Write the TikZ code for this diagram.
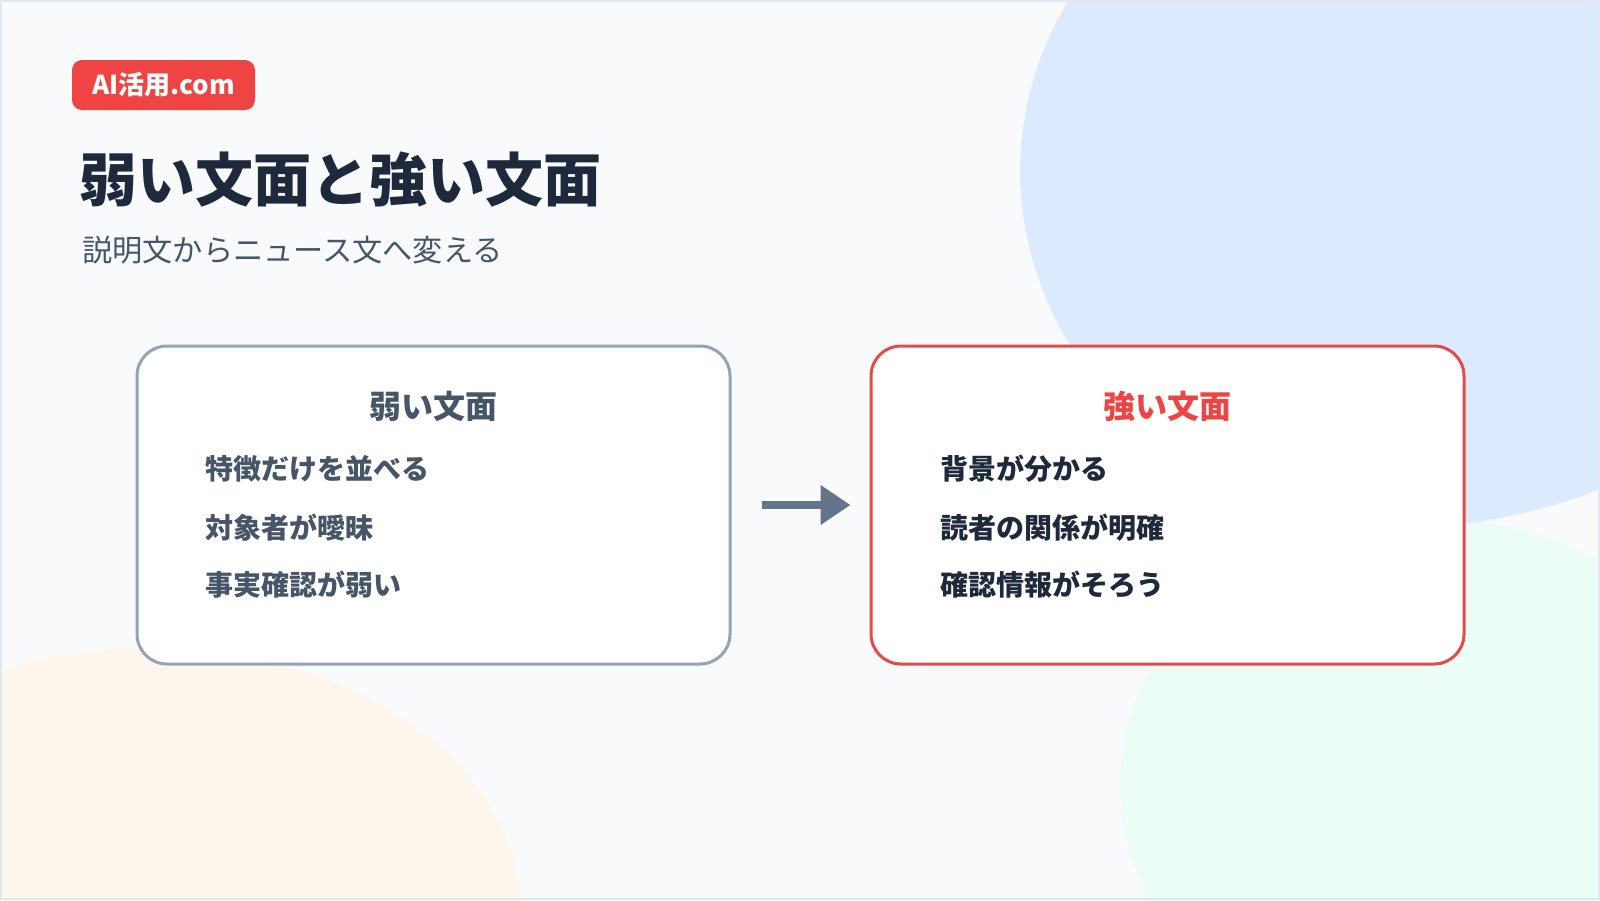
\documentclass[tikz,border=0pt]{standalone}
\usepackage{fontspec}
\setmainfont{Noto Sans CJK JP}
\usetikzlibrary{arrows.meta}
\definecolor{bgc}{HTML}{F8FAFC}
\definecolor{frame}{HTML}{E2E8F0}
\definecolor{blobblue}{HTML}{DBEAFE}
\definecolor{blobgreen}{HTML}{ECFDF5}
\definecolor{blobpeach}{HTML}{FFF7ED}
\definecolor{accent}{HTML}{EF4444}
\definecolor{panelred}{HTML}{E44A4A}
\definecolor{navy}{HTML}{1E293B}
\definecolor{slate}{HTML}{475569}
\definecolor{slatelight}{HTML}{94A3B8}
\definecolor{arrowc}{HTML}{64748B}
\tikzset{
  badge/.style={fill=accent, text=white, rounded corners=10pt, minimum width=183pt, minimum height=50pt, inner sep=0pt, font=\bfseries\fontsize{26}{30}\selectfont},
  titletext/.style={anchor=west, inner sep=0pt, text=navy, font=\bfseries\fontsize{58}{66}\selectfont},
  subtext/.style={anchor=west, inner sep=0pt, text=slate, font=\fontsize{30.2}{34}\selectfont},
  panel/.style={draw=#1, line width=3pt, fill=white, rounded corners=30pt, minimum width=593pt, minimum height=318pt, inner sep=0pt},
  panelhead/.style={inner sep=0pt, text=#1, font=\bfseries\fontsize{32}{36}\selectfont},
  itemtext/.style={anchor=west, inner sep=0pt, text=#1, font=\bfseries\fontsize{28}{32}\selectfont},
  flow/.style={draw=arrowc, line width=8pt, -{Triangle[length=30pt,width=38pt]}, shorten <=30pt, shorten >=19pt}
}
\begin{document}
\begin{tikzpicture}[x=1pt,y=-1pt]
\useasboundingbox (0,0) rectangle (1600,900);
\clip (0,0) rectangle (1600,900);
\fill[bgc] (0,0) rectangle (1600,900);
% decorative blobs
\fill[blobpeach] (150,910) ellipse [x radius=371, y radius=262];
\fill[blobgreen] (1429,785) ellipse [x radius=309, y radius=267];
\fill[blobblue] (1070,-2) .. controls (1035,55) and (1020,115) .. (1020,172)
  .. controls (1020,235) and (1040,295) .. (1069,344)
  .. controls (1150,480) and (1300,540) .. (1440,527)
  .. controls (1500,520) and (1555,508) .. (1602,488) -- (1602,-2) -- cycle;
\draw[frame, line width=2pt] (1,1) rectangle (1599,899);
% header
\node[badge] (badge) at (163.5,85) {AI活用.com};
\node[titletext] (title) at (79,180) {弱い文面と強い文面};
\node[subtext] (subtitle) at (82,250) {説明文からニュース文へ変える};
% panels
\node[panel=slatelight] (weak) at (433.5,505) {};
\node[panel=panelred] (strong) at (1167.5,505) {};
\node[panelhead=slate] (weakh) at (433,406) {弱い文面};
\node[panelhead=accent] (strongh) at (1167,406) {強い文面};
\node[itemtext=slate] (w1) at (205,469) {特徴だけを並べる};
\node[itemtext=slate] (w2) at (205,527.5) {対象者が曖昧};
\node[itemtext=slate] (w3) at (205,585) {事実確認が弱い};
\node[itemtext=navy] (s1) at (940,469) {背景が分かる};
\node[itemtext=navy] (s2) at (940,527.5) {読者の関係が明確};
\node[itemtext=navy] (s3) at (940,585) {確認情報がそろう};
\draw[flow] (weak.east) -- (strong.west);
\end{tikzpicture}
\end{document}
